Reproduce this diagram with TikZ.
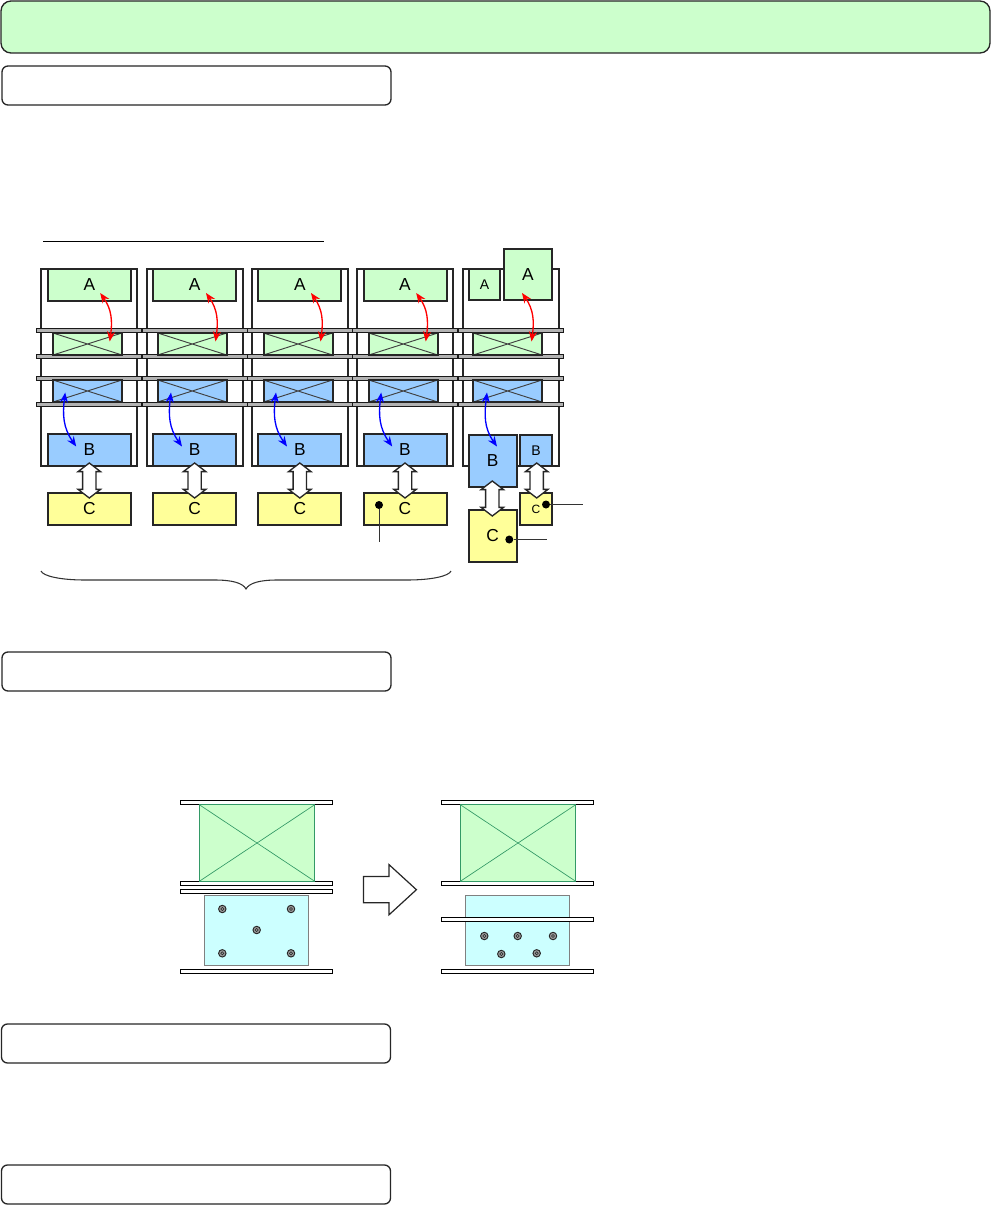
\documentclass[tikz,border=0pt]{standalone}
\usepackage{fontspec}
\setmainfont{Liberation Sans}
\usetikzlibrary{arrows.meta,shapes.arrows}
\definecolor{palegreen}{HTML}{CCFFCC}
\definecolor{paleblue}{HTML}{99CCFF}
\definecolor{paleyellow}{HTML}{FFFF99}
\definecolor{palecyan}{HTML}{CCFFFF}
\definecolor{coilgreen}{HTML}{339966}
\tikzset{
  boxdim/.style 2 args={minimum width=#1*0.75pt, minimum height=#2*0.75pt},
  partbox/.style={draw=black!85, line width=1.5pt, inner sep=0pt, font=\fontsize{13}{15}\selectfont},
  crossbox/.style={draw=black!85, line width=1.5pt, inner sep=0pt, boxdim={69}{22},
    path picture={\draw[black!75, line width=0.7pt]
      (path picture bounding box.north west) -- (path picture bounding box.south east)
      (path picture bounding box.south west) -- (path picture bounding box.north east);}},
  headbox/.style={draw=black!85, line width=1pt, rounded corners=4.5pt, fill=white, boxdim={389}{39}},
  plate/.style={draw=black!90, line width=0.9pt, fill=black!30},
  sheet/.style={draw=black, line width=0.9pt, fill=white},
  dblarrow/.style={double arrow, draw=black!85, fill=white, line width=1pt, rotate=90,
    inner xsep=0pt, inner ysep=4.5pt,
    minimum height=26.25pt, minimum width=15.75pt, double arrow head extend=3.4pt,
    double arrow tip angle=105, double arrow head indent=0pt},
  flow/.style={{Stealth[length=7.5pt,width=6pt]}-{Stealth[length=7.5pt,width=6pt]}, line width=1pt},
  lead/.style={draw=black!80, line width=0.7pt},
  dot/.style={circle, fill=black, inner sep=0pt, minimum size=6pt},
  screw/.style={circle, draw=black!85, fill=black!40, line width=0.7pt, inner sep=0pt, minimum size=5.6pt,
    path picture={\draw[black!85, line width=0.4pt] (path picture bounding box.center) circle (1.2pt);}},
}
\begin{document}
\begin{tikzpicture}[x=0.75pt, y=-0.75pt]
  \useasboundingbox (0,0) rectangle (992,1206);

  % title bar and section bars
  \node[draw=black!85, line width=1pt, rounded corners=7.5pt, fill=palegreen, boxdim={989}{52}] (title) at (495.5,27) {};
  \node[headbox] (headone) at (196.5,85.5) {};
  \node[headbox] (headtwo) at (196.5,671.5) {};
  \node[headbox] (headthree) at (196,1043.5) {};
  \node[headbox] (headfour) at (196,1184.5) {};

  % rule above the columns
  \draw[line width=0.7pt] (43,241.5) -- (324,241.5);

  % frames, plates and crossed parts
  \foreach \i/\x/\c in {1/89.2/87.5,2/195/192.2,3/300/298,4/405.2/403.3,5/511/507.6} {
    \draw[draw=black!85, line width=1.5pt] (\x-48,466) -- (\x-48,269) -- (\x+48,269) -- (\x+48,466) -- cycle;
    \foreach \y in {330.5,356.8,378.7,404.2} {
      \draw[plate] (\x-52.6,\y-2) rectangle (\x+52.6,\y+2);
    }
    \node[crossbox, fill=palegreen] (X\i) at (\c,344) {};
    \node[crossbox, fill=paleblue] (Y\i) at (\c,391) {};
  }

  % parts of the four equal columns
  \foreach \i/\x in {1/89.3,2/194.6,3/299.8,4/405} {
    \node[partbox, fill=palegreen, boxdim={83}{32}] (A\i) at (\x,285) {A};
    \node[partbox, fill=paleblue, boxdim={83}{32}] (B\i) at (\x,450) {B};
    \node[partbox, fill=paleyellow, boxdim={83}{32}] (C\i) at (\x,509) {C};
    \node[dblarrow] (T\i) at (\x,480.5) {};
  }

  % parts of the last column
  \node[partbox, fill=palegreen, boxdim={31}{31}, font=\fontsize{10.5}{12}\selectfont] (A5) at (484.5,284.5) {A};
  \node[partbox, fill=palegreen, boxdim={48}{51}] (A6) at (528,274.5) {A};
  \node[partbox, fill=paleblue, boxdim={48}{52}] (B5) at (492.7,461) {B};
  \node[partbox, fill=paleblue, boxdim={32}{31}, font=\fontsize{10.5}{12}\selectfont] (B6) at (536,450.5) {B};
  \node[partbox, fill=paleyellow, boxdim={48}{52}] (C5) at (492.7,536) {C};
  \node[partbox, fill=paleyellow, boxdim={32}{32}, font=\fontsize{9}{11}\selectfont] (C6) at (536,509) {C};
  \node[dblarrow] (T5) at (492.3,498.5) {};
  \node[dblarrow] (T6) at (536.7,480.5) {};

  % curved arrows
  \foreach \i/\x/\e in {1/89.2/0,2/195/0,3/300/0,4/405.2/0,5/511/-1} {
    \coordinate (ra\i) at (\x+11,293);
    \coordinate (rb\i) at (\x+20.5,341.5);
    \coordinate (ba\i) at (\x-24,392.5);
    \coordinate (bb\i) at (\x-13+\e,446.5);
    \draw[flow, red] (ra\i) to[out=-55, in=82, looseness=1.05] (rb\i);
    \draw[flow, blue] (ba\i) to[out=-97, in=125, looseness=1.05] (bb\i);
  }

  % leader lines
  \node[dot] (dotc) at (379,505) {};
  \coordinate (endc) at (379,541.5);
  \draw[lead] (dotc) -- (endc);
  \node[dot] (dotd) at (546,504.5) {};
  \coordinate (endd) at (583,504.5);
  \draw[lead] (dotd) -- (endd);
  \node[dot] (dote) at (509.3,539.5) {};
  \coordinate (ende) at (546.7,539.5);
  \draw[lead] (dote) -- (ende);

  % brace
  \draw[black!80, line width=0.8pt] (41,571) .. controls (43,576) and (60,580) .. (85,580)
    -- (215,580) .. controls (232,580) and (243,583) .. (246,589)
    .. controls (249,583) and (260,580) .. (277,580) -- (407,580)
    .. controls (432,580) and (449,576) .. (451,571);

  % lower picture, left
  \draw[sheet] (180.3,800.3) rectangle (332.7,804.7);
  \draw[sheet] (180.3,881.3) rectangle (332.7,885.7);
  \draw[sheet] (180.3,889.3) rectangle (332.7,893.7);
  \draw[sheet] (180.3,969.3) rectangle (332.7,973.7);
  \draw[draw=coilgreen, line width=0.8pt, fill=palegreen] (199.3,804.7) rectangle (314.7,881.3);
  \draw[draw=coilgreen, line width=0.5pt] (199.3,804.7) -- (314.7,881.3) (199.3,881.3) -- (314.7,804.7);
  \draw[draw=black!50, line width=0.8pt, fill=palecyan] (204.3,895.3) rectangle (308.7,965.3);
  \foreach \n/\x/\y in {a/222.3/909,b/291/909,c/256.7/930,d/222.3/953.3,e/291/953.3} {
    \node[screw] (L\n) at (\x,\y) {};
  }

  % block arrow
  \node[single arrow, draw=black!85, fill=white, line width=0.9pt, anchor=tip, inner xsep=0pt, inner ysep=9.4pt,
    minimum height=39.75pt, minimum width=36.75pt, single arrow head extend=9pt,
    single arrow tip angle=85, single arrow head indent=0pt] (shift) at (417.3,889.7) {};

  % lower picture, right
  \draw[sheet] (441.3,800.3) rectangle (593.7,804.7);
  \draw[sheet] (441.3,881.3) rectangle (593.7,885.7);
  \draw[sheet] (441.3,969.3) rectangle (593.7,973.7);
  \draw[draw=coilgreen, line width=0.8pt, fill=palegreen] (460.3,804.7) rectangle (575.7,881.3);
  \draw[draw=coilgreen, line width=0.5pt] (460.3,804.7) -- (575.7,881.3) (460.3,881.3) -- (575.7,804.7);
  \draw[draw=black!50, line width=0.8pt, fill=palecyan] (465.3,895.3) rectangle (569.3,965.3);
  \draw[sheet] (441.3,917.3) rectangle (593.7,921.7);
  \foreach \n/\x/\y in {a/484.3/936,b/517.7/936,c/553/936,d/501.3/954,e/536.7/953.3} {
    \node[screw] (R\n) at (\x,\y) {};
  }
\end{tikzpicture}
\end{document}
